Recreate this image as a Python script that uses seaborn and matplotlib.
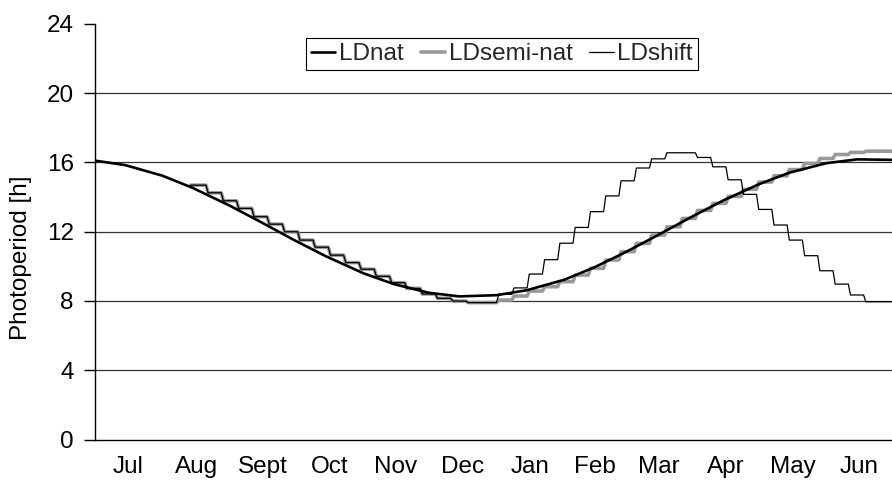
import numpy as np
import pandas as pd
import matplotlib
matplotlib.use("Agg")
import matplotlib.pyplot as plt
import seaborn as sns

# Month labels (season running July -> June) and month lengths in days
months = ["Jul", "Aug", "Sept", "Oct", "Nov", "Dec", "Jan", "Feb", "Mar", "Apr", "May", "Jun"]
month_days = [31, 31, 30, 31, 30, 31, 31, 28, 31, 30, 31, 30]

# Natural photoperiod (h), sampled on the 1st / 15th of each month (day of season)
nat_day = [0, 14, 31, 45, 62, 76, 92, 106, 123, 137, 153, 167, 184,
           198, 215, 229, 243, 257, 274, 288, 304, 318, 335, 349, 365]
nat_hours = [16.10, 15.84, 15.23, 14.52, 13.49, 12.56, 11.47, 10.57, 9.60, 8.97, 8.47, 8.26, 8.33,
             8.62, 9.22, 9.95, 10.81, 11.74, 12.90, 13.81, 14.73, 15.40, 15.95, 16.17, 16.14]

# Weekly programmed photoperiods (h), one value per week from mid-August
week_start = 45
seminat_hours = [14.68, 14.24, 13.78, 13.34, 12.86, 12.43, 11.99, 11.51, 11.10, 10.64,
                 10.21, 9.83, 9.42, 9.05, 8.72, 8.40, 8.15, 7.99, 7.90, 7.90,
                 8.05, 8.28, 8.57, 8.82, 9.11, 9.49, 9.88, 10.36, 10.84, 11.32,
                 11.80, 12.28, 12.76, 13.22, 13.63, 14.03, 14.44, 14.86, 15.22, 15.58,
                 15.93, 16.22, 16.45, 16.57, 16.64, 16.64]
shift_hours = [14.68, 14.24, 13.78, 13.34, 12.86, 12.43, 11.99, 11.51, 11.10, 10.64,
               10.21, 9.83, 9.42, 9.05, 8.72, 8.40, 8.15, 7.99, 7.90, 7.90,
               8.38, 8.75, 9.55, 10.38, 11.33, 12.24, 13.15, 14.06, 14.93, 15.67,
               16.20, 16.55, 16.55, 16.28, 15.74, 14.99, 14.15, 13.28, 12.38, 11.51,
               10.61, 9.74, 8.97, 8.34, 7.95, 7.95]

series_names = ["LDnat", "LDsemi-nat", "LDshift"]
y_ticks = [0, 4, 8, 12, 16, 20, 24]


def weekly_frame(values, name):
    """Hold each weekly value for seven days (daily points, ramp between days)."""
    days, hours = [], []
    for k, v in enumerate(values):
        s = week_start + 7 * k
        first = s - 1 if k == 0 else s
        days += [first, s + 6]
        hours += [v, v]
    return pd.DataFrame({"day": days, "hours": hours, "series": name})


nat_df = pd.DataFrame({"day": nat_day, "hours": nat_hours, "series": series_names[0]})
semi_df = weekly_frame(seminat_hours, series_names[1])
shift_df = weekly_frame(shift_hours, series_names[2])

sns.set_theme(style="white")
plt.rcParams["font.family"] = ["Liberation Sans", "DejaVu Sans"]
FS = 17.5
plt.rcParams["font.size"] = FS

W, H = 892, 482
fig = plt.figure(figsize=(W / 100, H / 100), dpi=100)
px_per_day = 2.203
left, right, top, bottom = 94.5, 892.0, 23.7, 439.5
ax = fig.add_axes([left / W, (H - bottom) / H, (right - left) / W, (bottom - top) / H])

sns.lineplot(data=semi_df, x="day", y="hours", ax=ax, color="#999999", lw=2.6,
             label=series_names[1], zorder=2, sort=False, estimator=None)
sns.lineplot(data=nat_df, x="day", y="hours", ax=ax, color="black", lw=1.9,
             label=series_names[0], zorder=3, sort=False, estimator=None)
sns.lineplot(data=shift_df, x="day", y="hours", ax=ax, color="black", lw=0.9,
             label=series_names[2], zorder=4, sort=False, estimator=None)

ax.set_xlim(0, (right - left) / px_per_day)
ax.set_ylim(0, 24)

# month boundaries as crossing ticks, month names centred in each month
edges = np.concatenate([[0], np.cumsum(month_days)])
mids = (edges[:-1] + edges[1:]) / 2
ax.set_xticks(edges)
ax.set_xticklabels([])
ax.set_xticks(mids, minor=True)
ax.set_xticklabels(months, minor=True)
ax.tick_params(axis="x", which="major", direction="inout", length=14, width=1, color="black")
ax.tick_params(axis="x", which="minor", length=0, pad=12, labelsize=FS, labelcolor="black")

ax.set_yticks(y_ticks)
ax.set_yticklabels([str(t) for t in y_ticks])
ax.tick_params(axis="y", direction="out", length=8, width=1, color="black", pad=7,
               labelsize=FS, labelcolor="black", left=True)

for t in y_ticks[1:-1]:
    ax.axhline(t, color="#333333", lw=0.9, zorder=1)

for side in ["top", "right"]:
    ax.spines[side].set_visible(False)
for side in ["left", "bottom"]:
    ax.spines[side].set_visible(True)
    ax.spines[side].set_color("black")
    ax.spines[side].set_linewidth(1.0)

ax.set_xlabel("")
ax.set_ylabel("Photoperiod [h]", fontsize=FS, color="black")
ax.yaxis.set_label_coords((32 - left) / (right - left), (bottom - 258) / (bottom - top))

handles, labels = ax.get_legend_handles_labels()
order = [labels.index(n) for n in series_names]
leg = ax.legend([handles[i] for i in order], [labels[i] for i in order],
                ncol=3, loc="center", bbox_to_anchor=(502 / W, (H - 54) / H),
                bbox_transform=fig.transFigure, frameon=True, fancybox=False,
                shadow=False, framealpha=1, edgecolor="black",
                handlelength=1.0, handletextpad=0.15, columnspacing=0.7,
                borderpad=0.2, borderaxespad=0, fontsize=FS)
leg.get_frame().set_linewidth(0.8)

fig.savefig("out.png", dpi=100, facecolor="white")
